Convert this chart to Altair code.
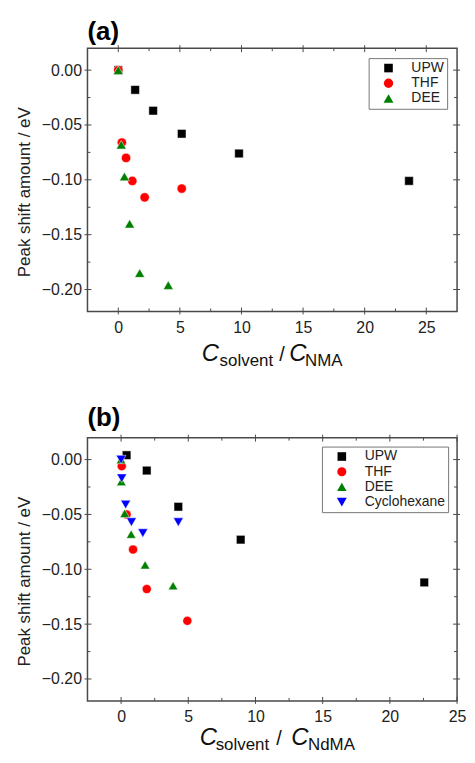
import altair as alt
import pandas as pd

# ---------------- data ----------------
SERIES_A = ["UPW", "THF", "DEE"]
SERIES_B = ["UPW", "THF", "DEE", "Cyclohexane"]
SHAPES = ["square", "circle", "triangle-up", "triangle-down"]
COLORS = ["#000000", "#ff0000", "#008000", "#0000ff"]
SIZES = [75, 100, 140, 140]

# panel (a): NMA
upw_a_x = [0.0, 1.37, 2.83, 5.15, 9.8, 23.6]
upw_a_y = [0.0, -0.018, -0.037, -0.058, -0.076, -0.101]
thf_a_x = [0.0, 0.29, 0.63, 1.14, 2.14, 5.15]
thf_a_y = [0.0, -0.066, -0.080, -0.101, -0.116, -0.108]
dee_a_x = [0.0, 0.24, 0.50, 0.92, 1.74, 4.06]
dee_a_y = [0.0, -0.068, -0.097, -0.140, -0.185, -0.196]

# panel (b): NdMA
upw_b_x = [0.41, 1.91, 4.26, 8.9, 22.56]
upw_b_y = [0.004, -0.010, -0.043, -0.073, -0.112]
thf_b_x = [0.05, 0.41, 0.89, 1.91, 4.93]
thf_b_y = [-0.006, -0.050, -0.082, -0.118, -0.147]
dee_b_x = [0.0, 0.02, 0.27, 0.75, 1.79, 3.87]
dee_b_y = [0.0, -0.020, -0.049, -0.068, -0.096, -0.115]
cyc_b_x = [0.0, 0.05, 0.34, 0.77, 1.62, 4.26]
cyc_b_y = [0.0, -0.017, -0.041, -0.057, -0.067, -0.057]

X_LABELS = [0, 5, 10, 15, 20, 25]
X_MINOR = [2.5, 7.5, 12.5, 17.5, 22.5]
Y_LABELS = [0.0, -0.05, -0.10, -0.15, -0.20]
Y_MINOR = [-0.025, -0.075, -0.125, -0.175]
Y_DOMAIN = [-0.22, 0.02]
X_DOMAIN_A = [-2.5, 27.5]
X_DOMAIN_B = [-2.5, 25.0]

W, H = 372, 265
FRAME = "#4a4a4a"
FONT = "Liberation Sans"

X_AXIS = alt.Axis(
    values=X_LABELS, format="d", title=None, ticks=False, domain=False,
    grid=False, labelFontSize=16, labelFont=FONT, labelColor="#222",
    labelPadding=8, labelFlush=False)
Y_AXIS = alt.Axis(
    values=Y_LABELS, format=".2f", title="Peak shift amount / eV",
    ticks=False, domain=False, grid=False, labelFontSize=16,
    labelFont=FONT, labelColor="#222", labelPadding=6,
    titleFont=FONT, titleFontSize=17, titleFontWeight="normal",
    titleColor="#222", titlePadding=8, titleY=H / 2 + 12)


def make_df(series, xs_list, ys_list):
    rows = []
    for s, xs, ys in zip(series, xs_list, ys_list):
        for xv, yv in zip(xs, ys):
            rows.append({"s": s, "x": xv, "y": yv})
    df = pd.DataFrame(rows)
    df["i"] = range(len(df))
    return df


def tick_layer(values, side, inner, outer, xs, ys):
    if side in ("top", "bottom"):
        d = pd.DataFrame({"x": values})
        enc = dict(x=alt.X("x:Q", scale=xs, axis=X_AXIS))
        if side == "bottom":
            enc.update(y=alt.value(H + outer), y2=alt.value(H - inner))
        else:
            enc.update(y=alt.value(-outer), y2=alt.value(inner))
    else:
        d = pd.DataFrame({"y": values})
        enc = dict(y=alt.Y("y:Q", scale=ys, axis=Y_AXIS))
        if side == "left":
            enc.update(x=alt.value(-outer), x2=alt.value(inner))
        else:
            enc.update(x=alt.value(W + outer), x2=alt.value(W - inner))
    return alt.Chart(d).mark_rule(color=FRAME, strokeWidth=1).encode(**enc)


def text_piece(txt, px, py, size, italic=False):
    return alt.Chart(pd.DataFrame({"t": [txt]})).mark_text(
        align="left", baseline="alphabetic", font=FONT, fontSize=size,
        fontStyle="italic" if italic else "normal", color="#111"
    ).encode(text="t:N", x=alt.value(px), y=alt.value(py))


def panel(df, series, xdom, label, sub, pos, base, legend_offset, title_offset):
    xs = alt.Scale(domain=xdom, nice=False, zero=False)
    ys = alt.Scale(domain=Y_DOMAIN, nice=False, zero=False)
    n = len(series)
    leg = alt.Legend(
        title=None, orient="top-right", offset=legend_offset,
        labelFontSize=14, labelFont=FONT, labelColor="#222",
        symbolSize=80, symbolStrokeWidth=0, rowPadding=1.3, padding=3,
        labelOffset=16, symbolOffset=10,
        strokeColor="#777", fillColor="white", cornerRadius=0,
    )
    pts = alt.Chart(df).mark_point(
        filled=True, opacity=1, stroke="white", strokeWidth=0.5
    ).encode(
        x=alt.X("x:Q", scale=xs, axis=X_AXIS),
        y=alt.Y("y:Q", scale=ys, axis=Y_AXIS),
        color=alt.Color("s:N", scale=alt.Scale(domain=series, range=COLORS[:n]), legend=leg),
        shape=alt.Shape("s:N", scale=alt.Scale(domain=series, range=SHAPES[:n]), legend=leg),
        size=alt.Size("s:N", scale=alt.Scale(domain=series, range=SIZES[:n]), legend=None),
        order=alt.Order("i:Q"),
    )
    layers = [pts]
    for side in ("bottom", "top"):
        layers.append(tick_layer(X_LABELS, side, 4, 3, xs, ys))
        layers.append(tick_layer(X_MINOR, side, 3, 0, xs, ys))
    for side in ("left", "right"):
        layers.append(tick_layer(Y_LABELS, side, 4, 3, xs, ys))
        layers.append(tick_layer(Y_MINOR, side, 3, 0, xs, ys))
    cx1, sx, slx, cx2, nx = pos
    layers += [
        text_piece("C", cx1, H + base, 24, italic=True),
        text_piece("solvent", sx, H + base + 5, 17),
        text_piece("/", slx, H + base, 20),
        text_piece("C", cx2, H + base, 24, italic=True),
        text_piece(sub, nx, H + base + 5, 17),
    ]
    return alt.layer(*layers).properties(
        width=W, height=H,
        title=alt.TitleParams(label, anchor="start", frame="group", fontSize=26,
                              fontWeight="bold", font=FONT, color="black",
                              offset=title_offset),
    )


df_a = make_df(SERIES_A, [upw_a_x, thf_a_x, dee_a_x], [upw_a_y, thf_a_y, dee_a_y])
df_b = make_df(SERIES_B, [upw_b_x, thf_b_x, dee_b_x, cyc_b_x],
               [upw_b_y, thf_b_y, dee_b_y, cyc_b_y])

pa = panel(df_a, SERIES_A, X_DOMAIN_A, "(a)", "NMA", (115, 133, 193, 203, 219), 50, 10, 0)
pb = panel(df_b, SERIES_B, X_DOMAIN_B, "(b)", "NdMA", (113, 129, 190, 205, 222), 44, 9, 3)

chart = alt.vconcat(pa, pb, spacing=34).resolve_scale(
    x="independent", y="independent", color="independent", shape="independent",
    size="independent"
).resolve_legend(color="independent", shape="independent").properties(
    padding={"left": 6, "top": 7, "right": 0, "bottom": 0}
).configure_view(stroke=FRAME, strokeWidth=1.5)

chart.save("out.html", embed_options={"renderer": "svg", "actions": False})
